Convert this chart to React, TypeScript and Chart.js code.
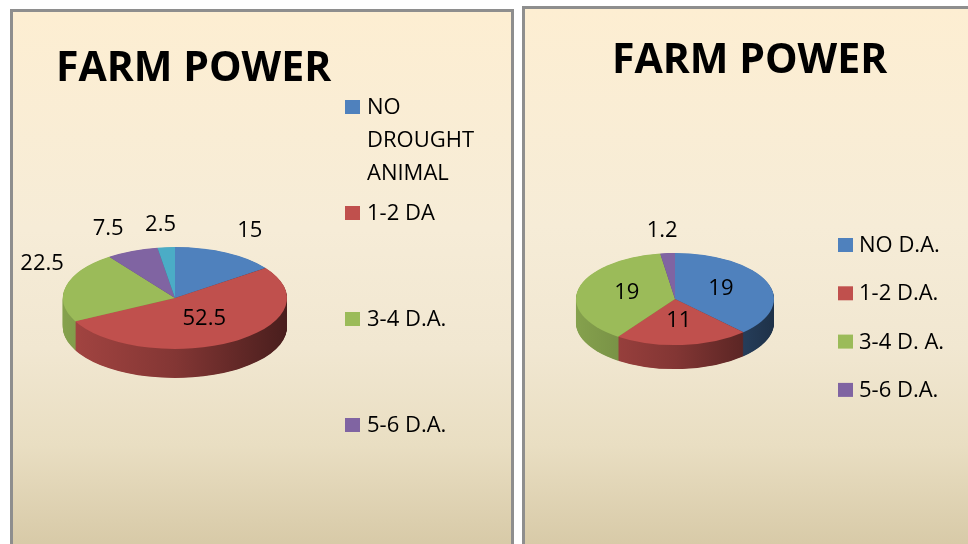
import React, { useEffect, useRef } from 'react';
import { Chart, registerables } from 'chart.js';

Chart.register(...registerables);

// ---------------- data ----------------
const chartTitle = 'FARM POWER';

const leftCategories = ['NO DROUGHT ANIMAL', '1-2 DA', '3-4 D.A.', '5-6 D.A.', 'OTHER'];
const leftValues = [15, 52.5, 22.5, 7.5, 2.5];

const rightCategories = ['NO D.A.', '1-2 D.A.', '3-4 D. A.', '5-6 D.A.'];
const rightValues = [19, 11, 19, 1.2];

const sliceColors = ['#4F81BD', '#C0504D', '#9BBB59', '#8064A2', '#4BACC6'];

// ---------------- layout / style ----------------
const FONT = '"Open Sans", "DejaVu Sans", sans-serif';

type PanelCfg = {
  panel: { left: number; top: number; width: number; height: number };
  center: [number, number];
  radius: number;
  tilt: number;
  depth: number;
  title: { x: number; y: number };
  legend: { squareX: number; textX: number; firstBaseline: number; itemGap: number; lineGap: number; wrap: number; count: number };
  outside: boolean[];
};

const LEFT_CFG: PanelCfg = {
  panel: { left: 10, top: 9, width: 504, height: 548 },
  center: [175, 298],
  radius: 112,
  tilt: 0.455,
  depth: 29,
  title: { x: 56, y: 81 },
  legend: { squareX: 345, textX: 367, firstBaseline: 114, itemGap: 106, lineGap: 33, wrap: 125, count: 4 },
  outside: [true, false, true, true, true],
};

const RIGHT_CFG: PanelCfg = {
  panel: { left: 522, top: 6, width: 470, height: 552 },
  center: [675, 299],
  radius: 99,
  tilt: 0.465,
  depth: 24,
  title: { x: 612, y: 73 },
  legend: { squareX: 838, textX: 859, firstBaseline: 252, itemGap: 48.3, lineGap: 33, wrap: 200, count: 4 },
  outside: [false, false, false, true],
};

const BORDER = 3;

function shade(hex: string, f: number) {
  const n = parseInt(hex.slice(1), 16);
  const r = (n >> 16) & 255, g = (n >> 8) & 255, b = n & 255;
  return `rgb(${Math.round(r * f)},${Math.round(g * f)},${Math.round(b * f)})`;
}

function wrapText(ctx: CanvasRenderingContext2D, text: string, maxW: number) {
  const words = text.split(' ');
  const lines: string[] = [];
  let cur = '';
  for (const w of words) {
    const t = cur ? cur + ' ' + w : w;
    if (cur && ctx.measureText(t).width > maxW) {
      lines.push(cur);
      cur = w;
    } else cur = t;
  }
  if (cur) lines.push(cur);
  return lines;
}

function makePlugin(cfg: PanelCfg, categories: string[], values: number[]) {
  const ox = cfg.panel.left + BORDER;
  const oy = cfg.panel.top + BORDER;
  let saved = false;
  return {
    id: 'pie3d',
    beforeDatasetsDraw(chart: any) {
      saved = false;
      const arcs = chart.getDatasetMeta(0).data;
      if (!arcs.length) return;
      const a0 = arcs[0];
      const cx = a0.x, cy = a0.y, r = a0.outerRadius;
      const ctx: CanvasRenderingContext2D = chart.ctx;
      const k = cfg.tilt;
      ctx.save();
      saved = true;
      ctx.translate(cx, cy);
      ctx.scale(1, k);
      ctx.translate(-cx, -cy);
      const colors = chart.data.datasets[0].backgroundColor as string[];
      const grads = arcs.map((_: any, i: number) => {
        const g = ctx.createLinearGradient(cx - r, 0, cx + r, 0);
        g.addColorStop(0, shade(colors[i], 0.86));
        g.addColorStop(0.5, shade(colors[i], 0.68));
        g.addColorStop(1, shade(colors[i], 0.38));
        return g;
      });
      for (let s = cfg.depth; s > 0; s -= 0.5) {
        ctx.save();
        ctx.translate(0, s / k);
        arcs.forEach((arc: any, i: number) => {
          const side = Object.create(arc);
          side.options = { ...arc.options, backgroundColor: grads[i], borderWidth: 0 };
          side.draw(ctx);
        });
        ctx.restore();
      }
      // transform stays active for the library's own top-face drawing
    },
    afterDatasetsDraw(chart: any) {
      if (saved) chart.ctx.restore();
      saved = false;
    },
    afterDraw(chart: any) {
      const ctx: CanvasRenderingContext2D = chart.ctx;
      const arcs = chart.getDatasetMeta(0).data;
      const colors = chart.data.datasets[0].backgroundColor as string[];
      ctx.save();
      ctx.fillStyle = '#000';
      ctx.textBaseline = 'alphabetic';

      // title
      ctx.font = `bold 41px ${FONT}`;
      ctx.textAlign = 'left';
      ctx.fillText(chartTitle, cfg.title.x - ox, cfg.title.y - oy);

      // legend
      ctx.font = `22px ${FONT}`;
      const L = cfg.legend;
      for (let i = 0; i < Math.min(L.count, categories.length); i++) {
        const base = L.firstBaseline + i * L.itemGap;
        ctx.fillStyle = colors[i];
        ctx.fillRect(L.squareX - ox, base - 14 - oy, 15, 14);
        ctx.fillStyle = '#000';
        const lines = wrapText(ctx, categories[i], L.wrap);
        lines.forEach((ln, j) => ctx.fillText(ln, L.textX - ox, base + j * L.lineGap - oy));
      }

      // data labels
      ctx.textAlign = 'center';
      arcs.forEach((arc: any, i: number) => {
        const cx = arc.x, cy = arc.y, r = arc.outerRadius;
        const mid = (arc.startAngle + arc.endAngle) / 2;
        const c = Math.cos(mid), s = Math.sin(mid);
        let x: number, y: number;
        if (cfg.outside[i]) {
          const px = cx + r * c;
          const py = cy + r * cfg.tilt * s;
          x = px + 24 * Math.max(-1, Math.min(1, 3 * c));
          y = py - 24;
        } else {
          x = cx + 0.5 * r * c;
          y = cy + 0.5 * r * cfg.tilt * s - 3;
        }
        ctx.fillText(String(values[i]), x, y + 8);
      });
      ctx.restore();
    },
  };
}

function PiePanel({ cfg, categories, values }: { cfg: PanelCfg; categories: string[]; values: number[] }) {
  const ref = useRef<HTMLCanvasElement>(null);
  const w = cfg.panel.width - 2 * BORDER;
  const h = cfg.panel.height - 2 * BORDER;
  useEffect(() => {
    if (!ref.current) return;
    const ox = cfg.panel.left + BORDER;
    const oy = cfg.panel.top + BORDER;
    const cx = cfg.center[0] - ox;
    const cy = cfg.center[1] - oy;
    const r = cfg.radius;
    const chart = new Chart(ref.current, {
      type: 'pie',
      data: {
        labels: categories,
        datasets: [
          {
            data: values,
            backgroundColor: sliceColors.slice(0, values.length),
            borderWidth: 0,
          },
        ],
      },
      options: {
        responsive: false,
        animation: false,
        events: [],
        radius: r,
        layout: {
          padding: { left: cx - r, top: cy - r, right: w - (cx + r), bottom: h - (cy + r) },
        },
        plugins: {
          legend: { display: false },
          title: { display: false },
          tooltip: { enabled: false },
        },
      } as any,
      plugins: [makePlugin(cfg, categories, values) as any],
    });
    return () => chart.destroy();
  }, []);

  return (
    <div
      style={{
        position: 'absolute',
        left: cfg.panel.left,
        top: cfg.panel.top,
        width: cfg.panel.width,
        height: cfg.panel.height,
        boxSizing: 'border-box',
        border: `${BORDER}px solid #8e8e8e`,
        background: 'linear-gradient(to bottom, #FDEED2 0%, #F6ECD7 40%, #F1E7D1 62%, #E9DEC2 80%, #D6C8A5 100%)',
      }}
    >
      <canvas ref={ref} width={w} height={h} style={{ position: 'absolute', left: 0, top: 0 }} />
    </div>
  );
}

export default function App() {
  return (
    <div
      style={{
        position: 'fixed',
        left: 0,
        top: 0,
        width: 968,
        height: 544,
        overflow: 'hidden',
        background: '#fff',
      }}
    >
      <PiePanel cfg={LEFT_CFG} categories={leftCategories} values={leftValues} />
      <PiePanel cfg={RIGHT_CFG} categories={rightCategories} values={rightValues} />
    </div>
  );
}
